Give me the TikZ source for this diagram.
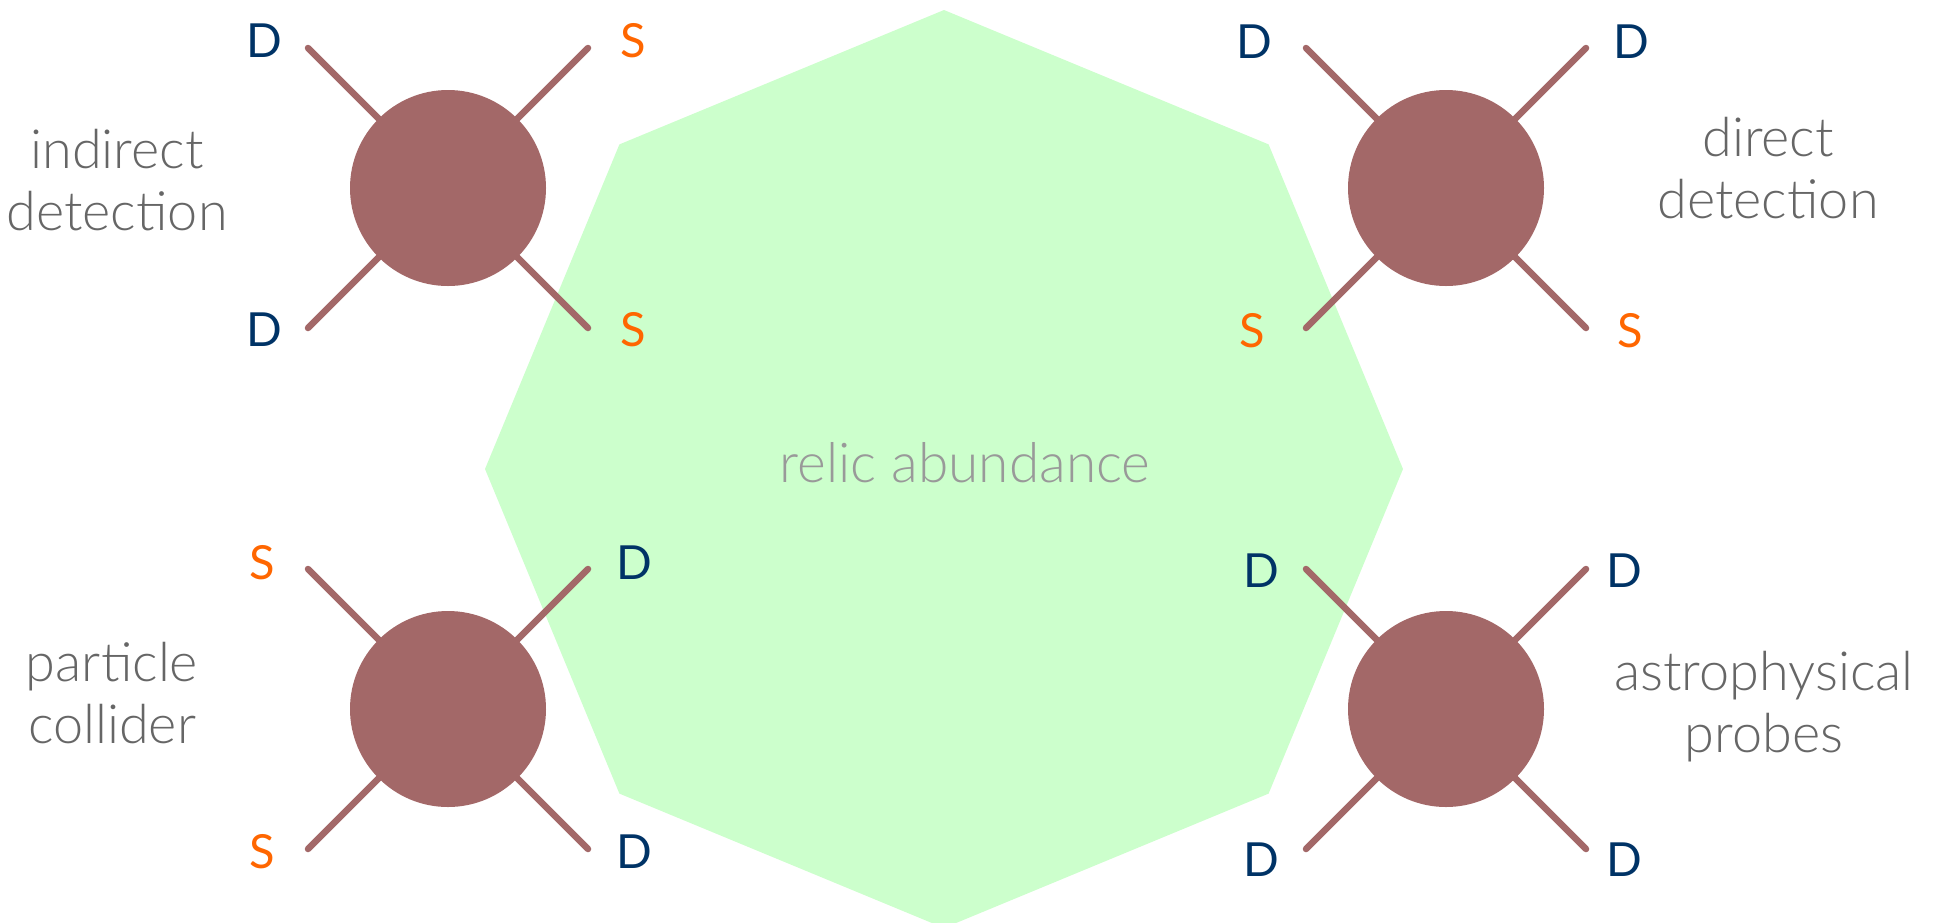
\documentclass[tikz,border=0pt]{standalone}
\usepackage{fontspec}
\setmainfont{Lato}
\newfontfamily\lightfont{Lato Light}
\definecolor{relic}{HTML}{CCFFCC}
\definecolor{blob}{HTML}{A36868}
\definecolor{darkmatter}{HTML}{003366}
\definecolor{standard}{HTML}{FF6600}
\definecolor{captiongray}{HTML}{666666}
\definecolor{relicgray}{HTML}{999999}

\begin{document}
\begin{tikzpicture}[x=1pt,y=-1pt,
  leg/.style={draw=blob, line width=6.5pt, line cap=round},
  blobnode/.style={circle, fill=blob, minimum size=196pt, inner sep=0pt},
  dlabel/.style={text=darkmatter, inner sep=0pt, font=\fontsize{47}{47}\selectfont},
  slabel/.style={text=standard, inner sep=0pt, font=\fontsize{47}{47}\selectfont},
  % anchor=base sits on the baseline of the last line
  caption/.style={text=captiongray, align=center, anchor=base, inner sep=0pt,
    font=\lightfont\fontsize{54}{62}\selectfont}]
\useasboundingbox (0,0) rectangle (1941,922);

% relic-abundance octagon
\fill[relic] (944,10) -- (1268.6,144.4) -- (1403,469) -- (1268.6,793.6)
  -- (944,928) -- (619.4,793.6) -- (485,469) -- (619.4,144.4) -- cycle;
\node[text=relicgray, anchor=base, inner sep=0pt,
  font=\lightfont\fontsize{55}{55}\selectfont] (relic) at (965,482) {relic abundance};

% four-point vertices: legs and blob
\foreach \n/\cx/\cy in {il/448/188, dd/1446/188, pc/448/709, ap/1446/709}{
  \coordinate (\n-nw) at (\cx-140,\cy-140);
  \coordinate (\n-ne) at (\cx+140,\cy-140);
  \coordinate (\n-sw) at (\cx-140,\cy+140);
  \coordinate (\n-se) at (\cx+140,\cy+140);
  \draw[leg] (\n-nw) -- (\n-se);
  \draw[leg] (\n-ne) -- (\n-sw);
  \node[blobnode] (\n) at (\cx,\cy) {};
}

% indirect detection: D D -> S S
\node[dlabel] (il-d1) at (264,41) {D};
\node[slabel] (il-s1) at (633,41) {S};
\node[dlabel] (il-d2) at (264,330) {D};
\node[slabel] (il-s2) at (633,330) {S};
% direct detection: D S -> D S
\node[dlabel] (dd-d1) at (1254,42) {D};
\node[dlabel] (dd-d2) at (1631,42) {D};
\node[slabel] (dd-s1) at (1252,331) {S};
\node[slabel] (dd-s2) at (1630,331) {S};
% particle collider: S S -> D D
\node[slabel] (pc-s1) at (262,563) {S};
\node[dlabel] (pc-d1) at (634,563) {D};
\node[slabel] (pc-s2) at (262,852) {S};
\node[dlabel] (pc-d2) at (634,852) {D};
% astrophysical probes: D D -> D D
\node[dlabel] (ap-d1) at (1261,571) {D};
\node[dlabel] (ap-d2) at (1624,571) {D};
\node[dlabel] (ap-d3) at (1261,860) {D};
\node[dlabel] (ap-d4) at (1624,860) {D};

% captions
\node[caption] (il-cap) at (117,230) {indirect\\detection};
\node[caption] (dd-cap) at (1768,218) {direct\\detection};
\node[caption] (pc-cap) at (112,743) {particle\\collider};
\node[caption] (ap-cap) at (1764,752) {astrophysical\\probes};
\end{tikzpicture}
\end{document}
